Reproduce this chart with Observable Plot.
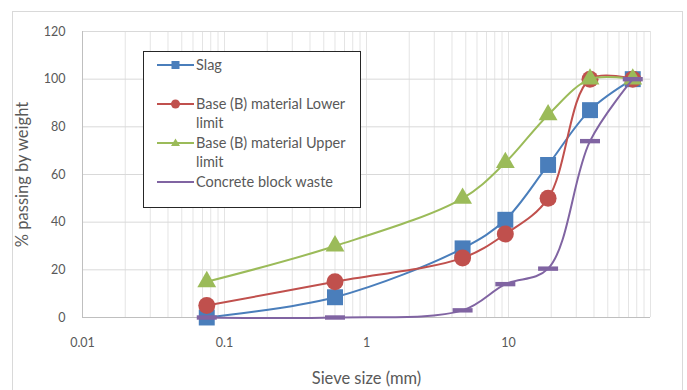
<!DOCTYPE html>
<html>
<head>
<meta charset="utf-8">
<script src="https://cdn.jsdelivr.net/npm/d3@7"></script>
<script src="https://cdn.jsdelivr.net/npm/@observablehq/plot@0.6"></script>
<style>
  html, body { margin: 0; padding: 0; background: #fff; overflow: hidden; }
  #wrap { position: relative; width: 687px; height: 390px; font-family: Lato, "Open Sans", sans-serif; }
  #frame { position: absolute; left: 12px; top: 11px; width: 671px; height: 400px; border: 1px solid #d9d9d9; box-sizing: border-box; pointer-events: none; }
  #chart { position: absolute; left: 0; top: 0; }
  #legend { position: absolute; left: 143px; top: 51px; width: 218px; height: 157px; border: 1.5px solid #262626; box-sizing: border-box; background: #fff; }
  .entry { position: absolute; left: 0; }
  .entry svg { position: absolute; left: 13px; top: 0; }
  .entry .lab { position: absolute; left: 52px; width: 160px; font-size: 14.5px; line-height: 19px; color: #595959; }
</style>
</head>
<body>
<div id="wrap">
  <div id="frame"></div>
  <div id="chart"></div>
  <div id="legend"></div>
</div>
<script>
// ---- data ----
const sieveSizes = [0.075, 0.6, 4.75, 9.5, 19, 37.5, 75];
const slag = [0, 8.5, 29, 41, 64, 87, 100];
const lowerLimit = [5, 15, 25, 35, 50, 100, 100];
const upperLimit = [15, 30, 50, 65, 85, 100, 100];
const concreteWaste = [0, 0, 3, 14, 20.5, 74, 100];

const seriesNames = ["Slag", "Base (B) material Lower limit", "Base (B) material Upper limit", "Concrete block waste"];
const seriesValues = [slag, lowerLimit, upperLimit, concreteWaste];
const seriesColors = ["#4a7ebb", "#c0504d", "#9bbb59", "#8064a2"];
const xTickLabels = [0.01, 0.1, 1, 10];
const yTickLabels = [0, 20, 40, 60, 80, 100, 120];

// ---- build ----
const dashSymbol = {
  draw(ctx, size) {
    const r = Math.sqrt(size / Math.PI);
    ctx.rect(-r, -r * 0.22, 2 * r, r * 0.44);
  }
};
const symbols = ["square", "circle", "triangle", dashSymbol];
const radii = [9, 8.5, 7, 10];

const minorX = [];
for (const d of [0.01, 0.1, 1, 10]) for (let k = 1; k <= 9; k++) minorX.push(+(k * d).toPrecision(3));
minorX.push(100);

const seriesMarks = [];
seriesNames.forEach((name, i) => {
  const rows = sieveSizes.map((s, j) => ({size: s, value: seriesValues[i][j], series: name}));
  seriesMarks.push(Plot.line(rows, {x: "size", y: "value", stroke: seriesColors[i], strokeWidth: 2, curve: "catmull-rom"}));
  seriesMarks.push(Plot.dot(rows, {x: "size", y: "value", fill: seriesColors[i], stroke: "none", symbol: symbols[i], r: radii[i]}));
});

const plot = Plot.plot({
  width: 687,
  height: 390,
  marginLeft: 82,
  marginRight: 37,
  marginTop: 31,
  marginBottom: 73,
  style: {fontFamily: "Lato, 'Open Sans', sans-serif", background: "transparent"},
  x: {type: "log", domain: [0.01, 100]},
  y: {domain: [0, 120]},
  marks: [
    Plot.gridX(minorX, {stroke: "#e4e4e4", strokeOpacity: 1}),
    Plot.gridY(yTickLabels, {stroke: "#d9d9d9", strokeOpacity: 1}),
    Plot.ruleX([0.01], {stroke: "#bfbfbf"}),
    Plot.ruleY([0], {stroke: "#bfbfbf"}),
    Plot.axisX(xTickLabels, {tickSize: 0, tickPadding: 21, tickFormat: d => String(d), fontSize: 12.5, fill: "#595959", label: null}),
    Plot.axisY(yTickLabels, {tickSize: 0, tickPadding: 17, fontSize: 12.5, fill: "#595959", label: null}),
    Plot.text(["Sieve size (mm)"], {frameAnchor: "bottom", textAnchor: "middle", lineAnchor: "middle", dy: 61, fontSize: 16.5, fill: "#595959"}),
    Plot.text(["% passing by weight"], {frameAnchor: "left", textAnchor: "middle", lineAnchor: "middle", dx: -60, rotate: -90, fontSize: 16.5, fill: "#595959"}),
    ...seriesMarks
  ]
});
document.getElementById("chart").appendChild(plot);

// ---- legend ----
const legend = document.getElementById("legend");
const legendSyms = [
  c => `<rect x="14.5" y="6" width="8" height="8" fill="${c}"/>`,
  c => `<circle cx="18.5" cy="10" r="4.5" fill="${c}"/>`,
  c => `<path d="M18.5,5.5 L23,13 L14,13 Z" fill="${c}"/>`,
  c => ``
];
seriesNames.forEach((name, i) => {
  const e = document.createElement("div");
  e.className = "entry";
  e.style.top = (12 + i * 39 - 9.5) + "px";
  e.innerHTML = `<svg width="37" height="20"><line x1="0" x2="37" y1="10" y2="10" stroke="${seriesColors[i]}" stroke-width="2"/>${legendSyms[i](seriesColors[i])}</svg><div class="lab">${name}</div>`;
  legend.appendChild(e);
});
</script>
</body>
</html>
